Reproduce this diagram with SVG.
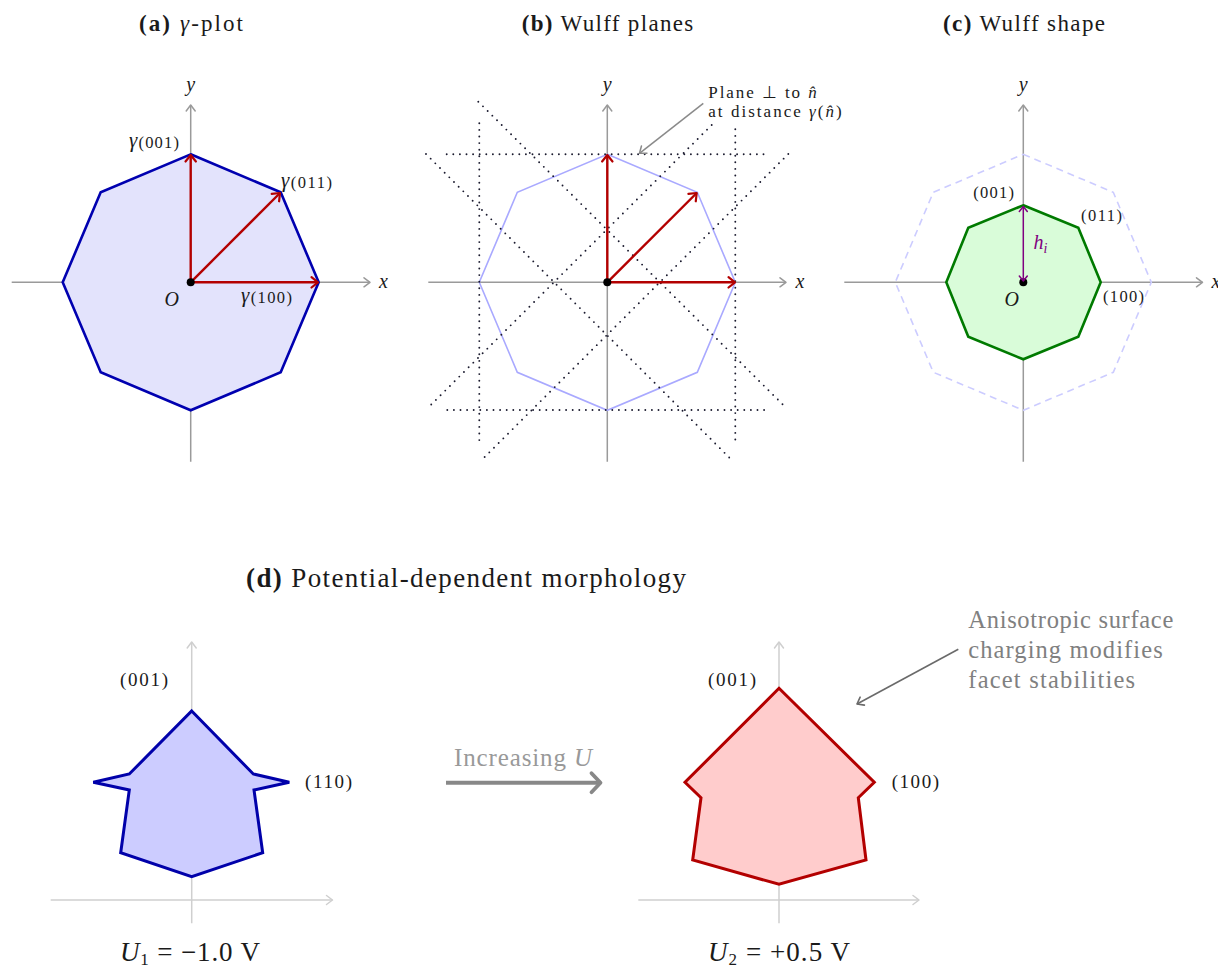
<svg xmlns="http://www.w3.org/2000/svg" width="1218" height="967" viewBox="0 0 1218 967">
<style>
text{font-family:"Liberation Serif","Times New Roman",serif;fill:#1a1a1a}
.it{font-style:italic}
.b{font-weight:bold}
.ax{stroke:#9a9a9a;stroke-width:1.5;fill:none}
.axl{stroke:#cfcfcf;stroke-width:1.5;fill:none}
.red{stroke:#b30000;stroke-width:2.4;fill:none}
.dl{stroke:#1a1a2e;stroke-width:1.9;stroke-dasharray:0 6.6;stroke-linecap:round;fill:none}
.t20{font-size:23px}
.var{font-size:20px;font-style:italic}
</style>
<defs>
<marker id="mAx" markerUnits="userSpaceOnUse" markerWidth="14" markerHeight="14" refX="11" refY="7" orient="auto" overflow="visible"><path d="M5,2.5 L11,7 L5,11.5" fill="none" stroke="#9a9a9a" stroke-width="1.5" stroke-linecap="round" stroke-linejoin="round"/></marker>
<marker id="mAxL" markerUnits="userSpaceOnUse" markerWidth="14" markerHeight="14" refX="11" refY="7" orient="auto" overflow="visible"><path d="M5,2.5 L11,7 L5,11.5" fill="none" stroke="#cfcfcf" stroke-width="1.5" stroke-linecap="round" stroke-linejoin="round"/></marker>
<marker id="mRed" markerUnits="userSpaceOnUse" markerWidth="14" markerHeight="14" refX="11" refY="7" orient="auto" overflow="visible"><path d="M4.5,1.8 L11,7 L4.5,12.2" fill="none" stroke="#b30000" stroke-width="2.2" stroke-linecap="round" stroke-linejoin="round"/></marker>
<marker id="mPur" markerUnits="userSpaceOnUse" markerWidth="14" markerHeight="14" refX="11" refY="7" orient="auto-start-reverse" overflow="visible"><path d="M6,3 L11,7 L6,11" fill="none" stroke="#800080" stroke-width="1.5" stroke-linecap="round" stroke-linejoin="round"/></marker>
<marker id="mAnnB" markerUnits="userSpaceOnUse" markerWidth="14" markerHeight="14" refX="11" refY="7" orient="auto" overflow="visible"><path d="M5,2.5 L11,7 L5,11.5" fill="none" stroke="#8a8a8a" stroke-width="1.5" stroke-linecap="round" stroke-linejoin="round"/></marker>
<marker id="mAnnD" markerUnits="userSpaceOnUse" markerWidth="14" markerHeight="14" refX="11" refY="7" orient="auto" overflow="visible"><path d="M5,2.5 L11,7 L5,11.5" fill="none" stroke="#6a6a6a" stroke-width="1.6" stroke-linecap="round" stroke-linejoin="round"/></marker>
<marker id="mThick" markerUnits="userSpaceOnUse" markerWidth="24" markerHeight="24" refX="12" refY="12" orient="auto" overflow="visible"><path d="M3,2.5 L12,12 L3,21.5" fill="none" stroke="#888888" stroke-width="3.8" stroke-linecap="round" stroke-linejoin="round"/></marker>
</defs>

<!-- Panel (a) -->
<g id="panel-a">
<text x="139" y="31" class="t20" textLength="104"><tspan class="b">(a)</tspan> <tspan class="it">γ</tspan>-plot</text>
<line class="ax" x1="11.7" y1="282.3" x2="370" y2="282.3" marker-end="url(#mAx)"/>
<line class="ax" x1="190.7" y1="461.7" x2="190.7" y2="105" marker-end="url(#mAx)"/>
<polygon points="190.7,154.3 280.7,192.3 318.7,282.3 280.7,372.3 190.7,410.3 100.7,372.3 62.7,282.3 100.7,192.3" fill="#e3e3fc" stroke="#0000b0" stroke-width="2.6"/>
<line class="red" x1="190.7" y1="282.3" x2="190.7" y2="155" marker-end="url(#mRed)"/>
<line class="red" x1="190.7" y1="282.3" x2="280" y2="193" marker-end="url(#mRed)"/>
<line class="red" x1="190.7" y1="282.3" x2="318" y2="282.3" marker-end="url(#mRed)"/>
<circle cx="190.7" cy="282.3" r="4" fill="#000"/>
<text x="190.7" y="91" class="var" text-anchor="middle">y</text>
<text x="379" y="288" class="var">x</text>
<text x="164.5" y="306" class="var">O</text>
<text x="129" y="147" textLength="50"><tspan class="it" font-size="21">γ</tspan><tspan font-size="16.5" dy="1">(001)</tspan></text>
<text x="281" y="187" textLength="51"><tspan class="it" font-size="21">γ</tspan><tspan font-size="16.5" dy="1">(011)</tspan></text>
<text x="241" y="302" textLength="51"><tspan class="it" font-size="21">γ</tspan><tspan font-size="16.5" dy="1">(100)</tspan></text>
</g>

<!-- Panel (b) -->
<g id="panel-b">
<text x="521.7" y="31" class="t20" textLength="171.6"><tspan class="b">(b)</tspan> Wulff planes</text>
<line class="ax" x1="428.3" y1="282.3" x2="786" y2="282.3" marker-end="url(#mAx)"/>
<line class="ax" x1="607.3" y1="461.7" x2="607.3" y2="105" marker-end="url(#mAx)"/>
<polygon points="607.3,154.3 697.3,192.3 735.3,282.3 697.3,372.3 607.3,410.3 517.3,372.3 479.3,282.3 517.3,192.3" fill="none" stroke="#a9a9ff" stroke-width="1.6"/>
<line class="dl" x1="446.7" y1="154.3" x2="768.3" y2="154.3"/>
<line class="dl" x1="447.3" y1="410" x2="766.7" y2="410"/>
<line class="dl" x1="479.3" y1="123.3" x2="479.3" y2="441.7"/>
<line class="dl" x1="735.3" y1="129.3" x2="735.3" y2="441.7"/>
<line class="dl" x1="478.3" y1="101.7" x2="785" y2="406.7"/>
<line class="dl" x1="426" y1="154" x2="731.7" y2="460"/>
<line class="dl" x1="711.7" y1="125" x2="429.3" y2="406.5"/>
<line class="dl" x1="788.3" y1="154" x2="481.7" y2="460"/>
<line class="red" x1="607.3" y1="282.3" x2="607.3" y2="155" marker-end="url(#mRed)"/>
<line class="red" x1="607.3" y1="282.3" x2="696.7" y2="193" marker-end="url(#mRed)"/>
<line class="red" x1="607.3" y1="282.3" x2="735" y2="282.3" marker-end="url(#mRed)"/>
<circle cx="607.3" cy="282.3" r="4" fill="#000"/>
<text x="607.3" y="91" class="var" text-anchor="middle">y</text>
<text x="795.5" y="288" class="var">x</text>
<text x="708.3" y="98" font-size="17" textLength="108.4">Plane ⊥ to <tspan class="it">n̂</tspan></text>
<text x="708.3" y="117" font-size="17" textLength="133.4">at distance <tspan class="it">γ</tspan>(<tspan class="it">n̂</tspan>)</text>
</g>

<!-- Panel (c) -->
<g id="panel-c">
<text x="943" y="31" class="t20" textLength="162"><tspan class="b">(c)</tspan> Wulff shape</text>
<line class="ax" x1="844.3" y1="282.3" x2="1202.5" y2="282.3" marker-end="url(#mAx)"/>
<line class="ax" x1="1023.3" y1="461.7" x2="1023.3" y2="105" marker-end="url(#mAx)"/>
<polygon points="1023.3,154.3 1113.3,192.3 1151.3,282.3 1113.3,372.3 1023.3,410.3 933.3,372.3 895.3,282.3 933.3,192.3" fill="none" stroke="#ccccff" stroke-width="1.6" stroke-dasharray="7 5"/>
<polygon points="1023.3,205.3 1078.3,227.7 1100.7,282.3 1078.3,336.7 1023.3,359.3 968.3,336.7 946.3,282.3 968.3,227.7" fill="#d9fcd9" stroke="#007a00" stroke-width="2.6"/>
<circle cx="1023.3" cy="282.3" r="4" fill="#000"/>
<line x1="1023.3" y1="281" x2="1023.3" y2="206.5" stroke="#800080" stroke-width="1.5" marker-start="url(#mPur)" marker-end="url(#mPur)"/>
<text x="1023.3" y="91" class="var" text-anchor="middle">y</text>
<text x="1211.5" y="288" class="var">x</text>
<text x="1004.5" y="306" class="var">O</text>
<text x="1033.5" y="249" class="it" font-size="20" style="fill:#800080">h<tspan font-size="14" dy="3.5">i</tspan></text>
<text x="973.3" y="198" font-size="16.5" textLength="40.7">(001)</text>
<text x="1081" y="221" font-size="16.5" textLength="41">(011)</text>
<text x="1103" y="302" font-size="16.5" textLength="41">(100)</text>
</g>

<!-- Panel (d) -->
<g id="panel-d-title">
<text x="246" y="587" font-size="27" textLength="440"><tspan class="b">(d)</tspan> Potential-dependent morphology</text>
</g>

<g id="panel-d-left">
<line class="axl" x1="50.7" y1="900" x2="332.5" y2="900" marker-end="url(#mAxL)"/>
<line class="axl" x1="191.7" y1="923.3" x2="191.7" y2="642" marker-end="url(#mAxL)"/>
<polygon points="191.7,711 253.3,774 289.3,782.3 254,790 262.7,852.7 191.7,876.7 120.7,852.7 129.3,790 93.3,782.3 129.3,774" fill="#ccccff" stroke="#0000aa" stroke-width="3"/>
<text x="120" y="686" font-size="19" textLength="48">(001)</text>
<text x="305" y="787.5" font-size="19" textLength="47">(110)</text>
<text x="120" y="961" font-size="27" textLength="140"><tspan class="it">U</tspan><tspan font-size="17" dy="3.5">1</tspan><tspan dy="-3.5"> = −1.0 V</tspan></text>
</g>

<g id="panel-d-right">
<line class="axl" x1="638.3" y1="900" x2="919" y2="900" marker-end="url(#mAxL)"/>
<line class="axl" x1="779" y1="923.3" x2="779" y2="642" marker-end="url(#mAxL)"/>
<polygon points="779,688.3 874.3,782.3 858.3,797.7 866,860 779,884.3 692.7,860 701,797.7 685,782.3" fill="#ffcccc" stroke="#b30000" stroke-width="3"/>
<text x="708" y="686" font-size="19" textLength="48">(001)</text>
<text x="891.7" y="787.5" font-size="19" textLength="47.3">(100)</text>
<text x="708" y="961" font-size="27" textLength="142"><tspan class="it">U</tspan><tspan font-size="17" dy="3.5">2</tspan><tspan dy="-3.5"> = +0.5 V</tspan></text>
</g>

<g id="annotation-d">
<text x="454" y="766" font-size="25" textLength="138" style="fill:#999999">Increasing <tspan class="it">U</tspan></text>
<text font-size="24.5" style="fill:#808080"><tspan x="968.3" y="628" textLength="205">Anisotropic surface</tspan><tspan x="968.3" y="658" textLength="194.4">charging modifies</tspan><tspan x="968.3" y="688" textLength="166.7">facet stabilities</tspan></text>
</g>

<g id="connectors">
<line x1="703.3" y1="103.3" x2="639.5" y2="153.3" stroke="#8a8a8a" stroke-width="1.5" marker-end="url(#mAnnB)"/>
<line x1="958.3" y1="649.3" x2="857" y2="704" stroke="#6a6a6a" stroke-width="1.6" marker-end="url(#mAnnD)"/>
<line x1="446" y1="782.7" x2="600.5" y2="782.7" stroke="#888888" stroke-width="4" marker-end="url(#mThick)"/>
</g>
</svg>
